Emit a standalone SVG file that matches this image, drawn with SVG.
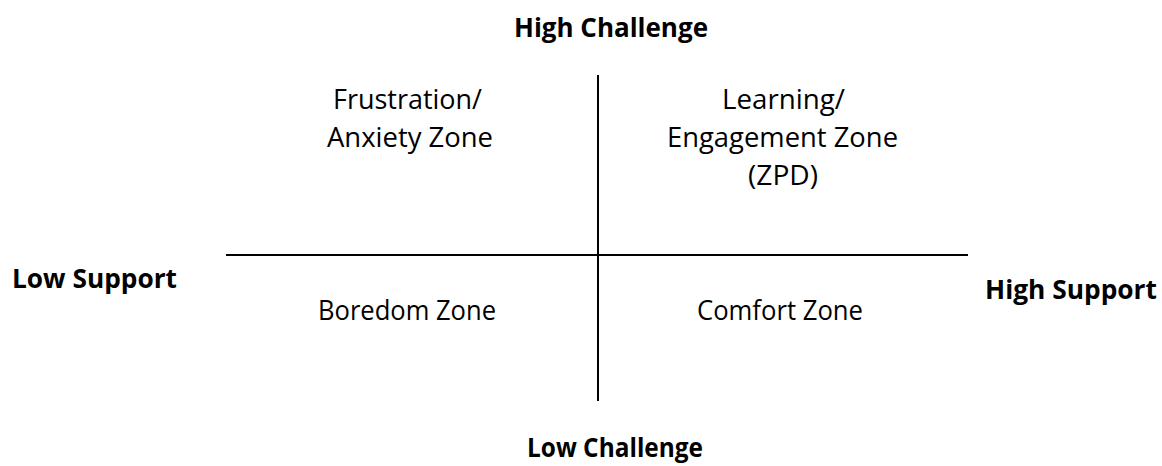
<svg xmlns="http://www.w3.org/2000/svg" width="1162" height="466" viewBox="0 0 1162 466">
  <style>
    .t { font-family: "Open Sans", "Liberation Sans", sans-serif; font-size: 27px; fill: #000; }
    .b { font-weight: bold; }
    .axis { stroke: #000; stroke-width: 2; fill: none; }
  </style>
  <rect width="1162" height="466" fill="#fff"/>
  <g id="connectors">
    <line class="axis" x1="598" y1="75" x2="598" y2="401"/>
    <line class="axis" x1="226" y1="255" x2="968" y2="255"/>
  </g>
  <g id="high-challenge">
    <text class="t b" x="514" y="37" textLength="194" lengthAdjust="spacingAndGlyphs">High Challenge</text>
  </g>
  <g id="low-challenge">
    <text class="t b" x="527" y="457" textLength="176" lengthAdjust="spacingAndGlyphs">Low Challenge</text>
  </g>
  <g id="low-support">
    <text class="t b" x="12" y="288" textLength="165" lengthAdjust="spacingAndGlyphs">Low Support</text>
  </g>
  <g id="high-support">
    <text class="t b" x="985" y="299" textLength="172" lengthAdjust="spacingAndGlyphs">High Support</text>
  </g>
  <g id="frustration-zone">
    <text class="t" x="333" y="109" textLength="149" lengthAdjust="spacingAndGlyphs">Frustration/</text>
    <text class="t" x="327" y="147" textLength="166" lengthAdjust="spacingAndGlyphs">Anxiety Zone</text>
  </g>
  <g id="learning-zone">
    <text class="t" x="722" y="109" textLength="123" lengthAdjust="spacingAndGlyphs">Learning/</text>
    <text class="t" x="667" y="147" textLength="231" lengthAdjust="spacingAndGlyphs">Engagement Zone</text>
    <text class="t" x="748" y="185" textLength="70" lengthAdjust="spacingAndGlyphs">(ZPD)</text>
  </g>
  <g id="boredom-zone">
    <text class="t" x="318" y="320" textLength="178" lengthAdjust="spacingAndGlyphs">Boredom Zone</text>
  </g>
  <g id="comfort-zone">
    <text class="t" x="697" y="320" textLength="166" lengthAdjust="spacingAndGlyphs">Comfort Zone</text>
  </g>
</svg>
